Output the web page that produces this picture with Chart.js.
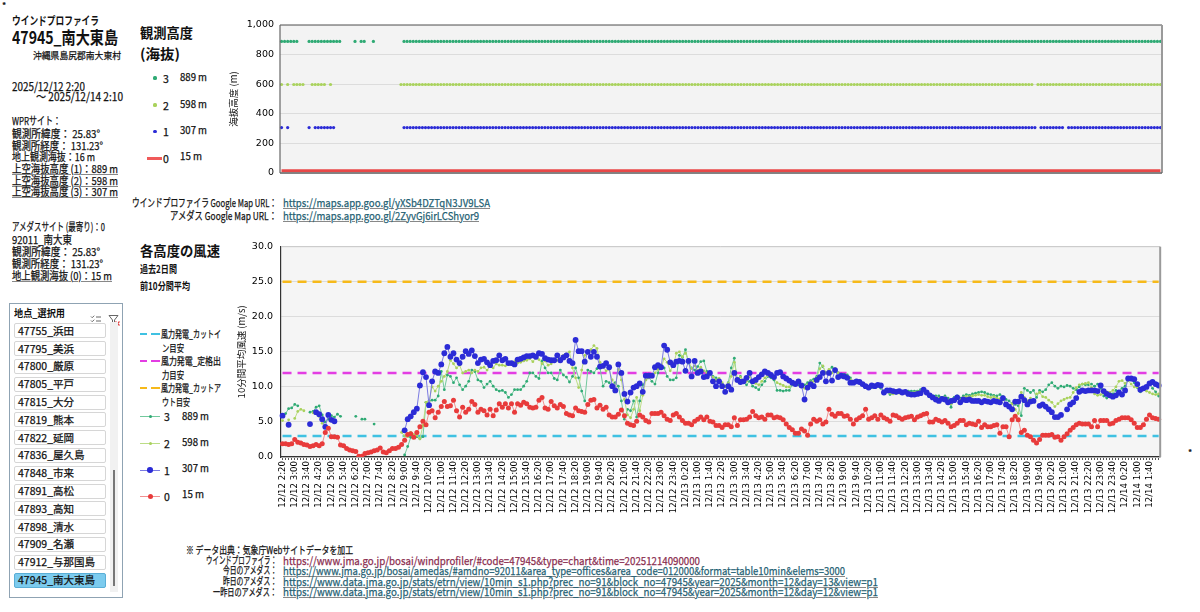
<!DOCTYPE html>
<html lang="ja"><head><meta charset="utf-8">
<script src="https://cdn.jsdelivr.net/npm/chart.js@4.4.1/dist/chart.umd.min.js"></script>
<style>
html,body{margin:0;padding:0;background:#fff}
#page{position:relative;width:1200px;height:612px;overflow:hidden;font-family:"Noto Sans CJK JP","Noto Sans",sans-serif;color:#111}
.t{position:absolute;white-space:nowrap;line-height:1.15;transform-origin:0 50%;-webkit-text-stroke:0.25px currentColor}
.u{text-decoration:underline;text-decoration-color:#888}
.ln{position:absolute;height:0}
.dot{position:absolute;border-radius:50%}
#box{position:absolute;left:9px;top:303px;width:114px;height:295px;border:1px solid #8fa3b3;background:#fff;box-sizing:border-box}
.item{position:absolute;left:14px;width:92px;height:15px;border:1px solid #d6d6d6;border-radius:2px;background:#fff;box-sizing:border-box}
.item.sel{background:#7ccbee;border-color:#5aaed6}
</style></head><body><div id="page"></div>
<script>
// ===== DATA =====
const _ = null;
const START = {month:12, day:12, hour:2, minute:20};
const N_POINTS = 288;              // 10-minute steps, 12/12 2:20 – 12/14 2:10
const LEVEL_NAMES = ['0','1','2','3'];
const LEVEL_HEIGHTS = [15, 307, 598, 889];   // m above sea level
const CUT_IN = 3.0, RATED = 12.0, CUT_OUT = 25.0;  // m/s guide lines

// level 0 : 15 m (AMeDAS)
const S0 = [
1.9,1.9,1.8,1.9,2.5,2.1,2.0,1.8,1.7,1.5,1.6,1.8,
1.6,1.9,3.5,4.1,2.9,2.9,2.8,1.7,1.6,1.2,1.0,0.9,
0.8,0.1,0.1,0.5,0.6,0.7,0.9,1.0,1.3,0.7,0.6,0.9,
1.2,1.2,1.4,1.8,2.4,3.2,3.3,2.8,3.5,4.3,5.1,4.6,
6.4,6.6,5.6,6.4,7.2,7.9,7.2,7.3,8.1,6.6,5.7,7.1,
6.4,6.8,7.9,7.5,6.4,6.8,6.6,6.0,6.8,5.9,6.7,7.6,
7.1,7.6,7.0,7.6,6.4,7.6,7.4,7.8,7.6,7.1,7.0,7.1,
8.1,8.5,7.0,6.8,7.9,7.3,7.0,7.5,7.2,6.2,6.0,5.9,
7.0,6.6,6.5,6.4,7.5,8.1,8.2,7.0,7.4,6.8,7.1,6.0,
5.7,5.7,6.1,6.7,5.9,4.8,4.6,4.5,5.1,6.0,5.7,5.2,
5.0,6.2,6.2,6.2,6.4,5.9,5.4,5.2,6.0,6.2,5.7,5.2,
4.8,4.8,4.6,5.1,5.4,5.7,5.3,5.7,5.1,5.0,4.5,4.5,
4.2,4.6,4.6,4.3,5.6,4.5,5.3,5.3,5.4,5.7,6.5,5.9,
5.6,5.7,5.4,6.0,6.0,5.6,5.7,5.6,5.3,4.7,4.2,3.9,
3.4,3.4,4.0,3.7,3.1,4.7,5.4,5.1,5.3,4.7,5.0,6.8,
6.1,5.8,6.2,6.2,5.8,5.9,5.4,4.7,5.3,5.6,5.9,6.8,
5.4,5.6,5.9,5.4,6.0,5.6,5.4,5.1,6.0,5.9,5.6,5.4,
5.6,5.7,5.8,5.3,5.7,5.9,6.1,6.2,5.0,5.0,5.4,5.2,
5.0,5.2,4.8,4.3,4.5,4.8,5.2,5.2,4.6,4.8,4.7,4.6,
5.1,4.2,4.6,4.3,4.3,4.5,4.6,3.4,4.3,4.3,2.9,5.3,
5.8,5.3,3.5,3.8,3.1,2.9,2.4,2.0,2.5,3.1,3.1,3.1,
3.2,2.8,2.9,2.4,2.9,3.3,3.8,4.2,4.6,4.8,4.7,4.7,
4.7,4.3,5.2,4.3,5.2,5.2,5.2,4.7,4.8,5.2,5.4,5.6,
5.6,5.6,5.3,4.8,4.2,4.2,4.6,5.4,6.0,5.6,5.5,5.4];

// level 1 : 307 m
const S1 = [
5.9,_,4.6,_,_,_,_,_,_,4.7,_,6.4,
6.1,5.4,4.3,6.0,5.3,5.1,_,_,_,_,_,_,
_,_,_,_,_,_,_,_,_,_,_,_,
_,_,_,_,3.8,5.4,5.8,6.4,6.9,10.2,12.1,11.4,
7.4,10.8,12.2,12.0,13.2,14.8,15.7,14.3,14.8,13.9,13.4,14.3,
15.1,14.7,15.2,14.4,13.4,13.9,14.0,13.5,13.1,13.7,13.8,14.5,
13.8,14.0,13.4,13.4,13.2,13.9,14.0,14.2,14.4,14.4,14.5,14.3,
14.8,14.7,14.1,13.9,13.8,13.8,14.5,13.8,14.2,14.5,13.7,13.4,
16.7,15.1,15.1,13.6,15.0,14.3,15.0,14.3,12.9,13.0,13.4,12.8,
10.1,9.5,13.2,12.0,9.0,7.9,9.2,9.9,10.1,10.5,9.3,11.6,
11.6,11.6,12.8,13.1,12.8,15.9,15.3,13.5,13.1,13.6,13.7,13.6,
12.3,13.7,11.5,13.7,12.0,12.2,11.4,11.5,12.0,10.8,10.1,10.8,
10.1,9.3,10.1,9.6,12.0,11.0,10.7,10.8,11.3,12.0,10.8,11.0,
11.4,11.8,12.2,12.0,11.7,11.4,12.0,12.1,11.5,11.2,10.9,10.6,
10.4,10.8,10.2,8.2,9.9,10.4,10.1,11.0,11.4,12.0,10.8,12.0,
10.9,12.4,11.4,11.6,11.5,11.3,10.6,10.6,10.8,10.7,10.4,10.1,
9.9,10.2,10.1,10.3,10.2,9.2,9.5,9.5,9.4,9.3,9.4,9.2,
9.3,9.0,8.9,8.9,9.0,9.1,9.6,9.2,8.8,8.5,8.2,8.0,
8.3,8.2,7.8,8.0,8.1,8.5,7.8,8.2,8.1,8.2,8.0,8.0,
8.0,7.8,8.0,7.9,7.8,8.0,7.9,7.8,8.4,7.5,7.2,6.8,
7.9,7.9,8.6,8.1,7.5,7.9,8.0,_,7.3,7.5,7.2,6.8,
6.4,5.7,5.7,6.0,_,6.8,7.5,7.8,8.4,9.3,9.5,9.4,
9.5,9.5,9.5,9.4,10.2,9.4,9.0,8.8,8.6,8.8,9.2,8.9,
9.5,11.2,11.2,11.1,10.4,9.6,9.8,10.0,10.5,10.7,10.4,10.2];

// level 2 : 598 m
const S2 = [
5.2,_,5.3,_,5.5,6.5,6.8,6.6,_,_,6.3,6.2,
5.8,4.8,4.5,_,5.3,_,_,_,_,_,_,_,
_,_,_,_,_,_,_,_,_,_,_,_,
_,_,_,3.5,3.0,2.9,3.5,3.2,3.1,2.6,4.5,7.8,
8.0,10.0,9.4,10.1,10.8,11.5,12.2,13.8,13.3,12.7,13.1,12.0,
12.2,12.4,12.0,12.4,12.2,12.7,12.8,12.4,12.9,12.7,13.3,13.1,
13.1,13.0,13.2,13.2,13.6,13.4,13.5,13.7,13.8,14.0,13.6,14.1,
13.9,13.3,13.7,13.1,13.3,13.6,13.8,14.1,14.5,14.7,15.0,12.7,
11.3,9.9,12.4,14.5,14.8,15.3,15.9,15.5,13.5,12.8,12.3,12.5,
11.0,10.0,12.5,11.0,8.2,6.0,5.6,6.8,8.5,6.6,8.8,11.0,
11.3,11.4,12.0,12.5,12.8,14.0,13.5,12.3,13.0,14.8,15.0,14.3,
14.8,13.8,12.6,13.0,12.4,12.8,12.3,12.0,11.8,11.4,11.0,11.2,
10.6,10.0,10.5,11.5,13.5,11.2,11.4,10.9,10.8,11.5,10.6,10.5,
10.3,10.8,11.3,11.6,11.6,11.2,10.6,10.4,10.2,10.0,10.0,10.4,
10.5,10.6,10.2,9.8,10.3,10.7,10.8,11.3,12.6,13.0,12.0,12.5,
12.0,12.6,12.0,11.8,11.6,11.5,11.0,10.7,10.8,10.6,10.4,10.1,
10.0,10.0,10.1,10.2,10.0,9.4,9.4,9.1,9.0,9.1,9.1,9.2,
9.2,9.2,9.1,9.2,9.3,9.4,9.5,9.1,8.8,8.5,8.5,8.4,
8.3,8.5,8.1,7.6,8.3,8.5,8.2,8.5,8.6,8.6,8.7,8.8,
8.9,8.8,8.8,8.6,8.5,8.6,8.4,8.3,8.2,7.5,7.4,7.6,
6.8,6.2,9.2,8.5,8.0,8.4,_,9.0,9.2,8.6,8.5,8.1,
7.8,7.2,7.6,8.0,8.2,8.4,8.5,9.2,9.9,10.3,10.4,10.5,
10.6,9.9,9.0,8.8,8.9,9.1,9.3,9.2,9.5,10.0,10.8,10.9,
10.5,10.9,10.4,10.0,10.0,9.6,9.6,9.4,9.2,9.0,8.9,9.0];

// level 3 : 889 m
const S3 = [
5.9,6.2,6.9,7.0,7.5,7.3,_,_,_,6.4,6.5,7.1,
7.3,6.0,5.0,5.4,5.9,5.7,6.1,5.8,_,_,_,_,
5.8,_,5.4,5.4,_,_,4.7,_,_,_,_,_,
_,_,_,_,0.3,1.5,2.8,2.8,2.9,2.6,2.9,7.8,
8.0,8.1,8.1,8.7,12.2,9.6,11.7,11.5,10.6,11.3,10.3,9.6,
10.1,10.8,12.4,12.2,11.0,10.8,9.9,10.4,10.8,10.1,9.6,9.4,
9.5,9.2,8.5,8.9,9.6,9.6,9.6,10.1,10.8,12.0,12.0,11.5,
11.2,13.7,12.7,12.0,12.0,11.2,11.0,12.4,11.7,11.4,10.7,11.5,
12.7,11.3,9.4,8.0,12.4,12.2,12.0,12.6,12.7,10.1,10.8,10.6,
10.1,10.6,10.1,8.0,5.4,6.8,6.6,8.0,5.7,8.0,10.3,11.0,
11.3,10.8,10.4,12.0,13.1,12.7,11.5,11.0,11.0,11.3,14.5,14.2,
15.3,13.4,12.7,12.4,12.9,13.6,13.7,12.2,12.0,11.5,11.3,11.0,
10.4,10.1,10.6,12.7,14.1,10.8,11.5,10.6,10.3,10.8,10.1,9.9,
9.6,10.3,10.8,11.5,11.3,11.0,9.5,9.5,9.4,9.5,9.5,10.3,
10.6,10.3,10.1,10.3,10.6,10.9,11.1,11.5,13.4,12.9,12.0,12.3,
12.8,12.2,12.0,11.8,11.8,11.7,11.3,10.8,10.8,10.6,10.4,10.1,
9.9,9.9,10.1,10.1,9.8,9.4,9.3,8.9,9.1,9.1,9.2,9.3,
9.3,9.4,9.4,9.4,9.4,9.6,9.6,9.3,8.9,8.7,8.7,8.7,
8.5,8.7,8.4,7.1,8.5,8.7,8.4,8.7,8.9,8.8,9.0,9.1,
9.2,9.3,9.2,9.0,8.9,8.8,8.7,8.9,8.6,8.2,8.0,7.6,
7.5,7.3,5.9,9.8,9.5,9.2,9.5,8.5,9.5,9.3,9.6,10.3,
10.6,10.1,9.8,10.1,10.0,10.2,10.1,9.8,9.6,10.0,10.4,10.3,
10.3,10.4,10.1,10.4,9.8,8.7,8.4,8.7,9.0,9.5,9.4,9.8,
10.1,11.2,11.0,10.6,9.9,9.3,9.8,10.1,10.4,9.8,9.3,8.7];

const STATIONS = ['47755_浜田','47795_美浜','47800_厳原','47805_平戸','47815_大分','47819_熊本','47822_延岡','47836_屋久島','47848_市来','47891_高松','47893_高知','47898_清水','47909_名瀬','47912_与那国島','47945_南大東島'];
const SELECTED = '47945_南大東島';

// time category labels (10-minute steps)
const TIME_LABELS = [];
for (let i = 0; i < N_POINTS; i++) {
  let m = START.minute + 10 * i, h = START.hour + Math.floor(m / 60); m %= 60;
  const d = START.day + Math.floor(h / 24); h %= 24;
  TIME_LABELS.push(`${START.month}/${d} ${h}:${String(m).padStart(2,'0')}`);
}

// ===== STYLE =====
const COL = {
  l3:'#2faa74', l3line:'#72c99d',
  l2:'#a9d25c', l2line:'#bcdd86',
  l1:'#2b2bd6', l1line:'#7b7be2',
  l0:'#e83b3b', l0line:'#f29090',
  cutIn:'#3fc1e2', rated:'#e33de3', cutOut:'#f6b91a',
  link:'#1f5f73', link1:'#8a2d4f'
};

const page = document.getElementById('page');
function T(txt, x, y, size, o = {}) {
  const d = document.createElement('div');
  d.className = 't' + (o.u ? ' u' : '');
  d.textContent = txt;
  d.style.fontSize = size + 'px';
  d.style.fontWeight = o.b ? '700' : '400';
  if (o.b) d.style.webkitTextStroke = '0px';
  d.style.color = o.c || '#111';
  if (o.f) d.style.fontFamily = o.f;
  page.appendChild(d);
  const h = d.offsetHeight;
  d.style.top = (y - h / 2) + 'px';
  let w = d.getBoundingClientRect().width;
  if (o.w) { d.style.transform = `scaleX(${o.w / w})`; w = o.w; }
  d.style.left = (o.r ? x - w : x) + 'px';
  return d;
}
function L(x1, x2, y, color, width, dash) {
  const d = document.createElement('div'); d.className = 'ln';
  d.style.cssText += `left:${x1}px;width:${x2 - x1}px;top:${y - width / 2}px;border-top:${width}px ${dash ? 'dashed' : 'solid'} ${color}`;
  page.appendChild(d); return d;
}
function D(x, y, r, color) {
  const d = document.createElement('div'); d.className = 'dot';
  d.style.cssText += `left:${x - r}px;top:${y - r}px;width:${2 * r}px;height:${2 * r}px;background:${color}`;
  page.appendChild(d); return d;
}

// ===== LEFT PANEL =====
T('*', 2, 6, 9);
T('ウインドプロファイラ', 12, 20, 11.5, {b:1, w:87});
T('47945_南大東島', 12, 36.5, 17.5, {b:1, w:106});
T('沖縄県島尻郡南大東村', 33, 55, 9.5, {w:88});
T('2025/12/12 2:20', 12, 86, 11.5, {w:73});
T('～ 2025/12/14 2:10', 36, 96.7, 11.5, {w:87});
T('WPRサイト：', 12, 120, 11, {w:49});
T('観測所緯度： 25.83°', 12, 133.3, 11, {w:88});
T('観測所経度： 131.23°', 12, 145.7, 11, {w:91});
T('地上観測海抜：16 m', 12, 156.7, 11, {w:83});
T('上空海抜高度 (1)：' + LEVEL_HEIGHTS[3] + ' m', 12, 168.3, 11, {w:106, u:1});
T('上空海抜高度 (2)：' + LEVEL_HEIGHTS[2] + ' m', 12, 180, 11, {w:106, u:1});
T('上空海抜高度 (3)：' + LEVEL_HEIGHTS[1] + ' m', 12, 191.7, 11, {w:106, u:1});
T('アメダスサイト (最寄り)：0', 12, 226.7, 11, {w:93});
T('92011_南大東', 12, 239.3, 11, {w:60});
T('観測所緯度： 25.83°', 12, 251.7, 11, {w:88});
T('観測所経度： 131.23°', 12, 263.3, 11, {w:91});
T('地上観測海抜 (0)：' + LEVEL_HEIGHTS[0] + ' m', 12, 275, 11, {w:100, u:1});

// slicer box
const box = document.createElement('div'); box.id = 'box'; page.appendChild(box);
T('地点_選択用', 14, 313, 10, {b:1, w:51});
const ic = document.createElement('div');
ic.style.cssText = 'position:absolute;left:90px;top:307px;width:32px;height:12px';
ic.innerHTML = '<svg width="32" height="12" viewBox="0 0 32 12"><g stroke="#666" stroke-width="1" fill="none"><path d="M1 2.5l1.2 1.2 2-2M1 6.5l1.2 1.2 2-2M1 10.5l1.2 1.2 2-2"/><path d="M6 3h5M6 7h5M6 11h5"/><path d="M19 1.5h9l-3.5 4.5v5l-2-1v-4z"/></g><path d="M25.5 7.5l4 4M29.5 7.5l-4 4" stroke="#e04040" stroke-width="1.2"/></svg>';
page.appendChild(ic);
const track = document.createElement('div');
track.style.cssText = 'position:absolute;left:110px;top:322px;width:8px;height:270px;background:#f1f1f1';
page.appendChild(track);
const thumb = document.createElement('div');
thumb.style.cssText = 'position:absolute;left:113px;top:470px;width:2px;height:116px;background:#777';
page.appendChild(thumb);
STATIONS.forEach((s, k) => {
  const cy = 330.8 + 17.8 * k;
  const it = document.createElement('div');
  it.className = 'item' + (s === SELECTED ? ' sel' : '');
  it.style.top = (cy - 7.5) + 'px';
  page.appendChild(it);
  T(s, 18, cy, 10.5, {});
});

// ===== TOP LEGEND =====
T('観測高度', 140, 31.7, 14, {b:1, w:53});
T('(海抜)', 140, 52.7, 14, {b:1, w:40});
D(155, 78, 1.6, COL.l3);  T(LEVEL_NAMES[3], 163, 78.5, 10.5); T(LEVEL_HEIGHTS[3] + ' m', 180, 77, 10.5, {w:27});
D(155, 105, 1.6, COL.l2); T(LEVEL_NAMES[2], 163, 105.5, 10.5); T(LEVEL_HEIGHTS[2] + ' m', 180, 103.5, 10.5, {w:27});
D(155, 131.7, 1.6, COL.l1); T(LEVEL_NAMES[1], 163, 132, 10.5); T(LEVEL_HEIGHTS[1] + ' m', 180, 129.5, 10.5, {w:27});
L(147, 162, 158.7, '#f05a5a', 3); T(LEVEL_NAMES[0], 163, 159, 10.5); T(LEVEL_HEIGHTS[0] + ' m', 180, 155.5, 10.5, {w:22});

// map URLs
T('ウインドプロファイラ Google Map URL：', 277, 202.7, 11, {r:1, w:145});
T('https://maps.app.goo.gl/yXSb4DZTqN3JV9LSA', 283, 202.7, 11, {u:1, c:COL.link, w:207});
T('アメダス Google Map URL：', 277, 215, 11, {r:1, w:107});
T('https://maps.app.goo.gl/2ZyvGj6irLCShyor9', 283, 215, 11, {u:1, c:COL.link, w:196});

// ===== BOTTOM LEGEND =====
T('各高度の風速', 140, 250, 14, {b:1, w:80});
T('過去2日間', 140, 269.3, 10.5, {b:1, w:37});
T('前10分間平均', 140, 286, 10.5, {b:1, w:50});
function dashLeg(y, color) { L(140, 147, y, color, 2.5); L(151, 160, y, color, 2.5); }
dashLeg(334, COL.cutIn);  T('風力発電_カットイ', 161, 334, 10, {w:60}); T('ン目安', 162, 348.3, 10, {w:22});
dashLeg(361, COL.rated);  T('風力発電_定格出', 161, 361, 10, {w:60}); T('力目安', 162, 375, 10, {w:22});
dashLeg(388.3, COL.cutOut); T('風力発電_カットア', 161, 388.3, 10, {w:60}); T('ウト目安', 162, 401.7, 10, {w:28});
L(140, 160, 416.7, COL.l3line, 1); D(150, 416.7, 1.5, COL.l3); T(LEVEL_NAMES[3], 164, 417, 10.5); T(LEVEL_HEIGHTS[3] + ' m', 182, 415.5, 10.5, {w:27});
L(140, 160, 443.3, COL.l2line, 1); D(150, 443.3, 1.5, COL.l2); T(LEVEL_NAMES[2], 164, 443.5, 10.5); T(LEVEL_HEIGHTS[2] + ' m', 182, 442, 10.5, {w:27});
L(140, 160, 470, COL.l1line, 1); D(150, 470, 2.8, COL.l1); T(LEVEL_NAMES[1], 164, 470.5, 10.5); T(LEVEL_HEIGHTS[1] + ' m', 182, 468, 10.5, {w:27});
L(140, 160, 496.7, COL.l0line, 1); D(150, 496.7, 2.5, COL.l0); T(LEVEL_NAMES[0], 164, 497, 10.5); T(LEVEL_HEIGHTS[0] + ' m', 182, 494, 10.5, {w:22});

// ===== FOOTER =====
T('※ データ出典：気象庁Webサイトデータを加工', 186, 550, 10.5, {w:167});
T('ウインドプロファイラ：', 277, 560, 10.5, {r:1, w:71});
T('https://www.jma.go.jp/bosai/windprofiler/#code=47945&type=chart&time=20251214090000', 283, 560, 11, {c:COL.link1, w:417});
T('今日のアメダス：', 277, 570, 10.5, {r:1, w:54});
T('https://www.jma.go.jp/bosai/amedas/#amdno=92011&area_type=offices&area_code=012000&format=table10min&elems=3000', 283, 570, 11, {u:1, c:COL.link, w:562});
T('昨日のアメダス：', 277, 581, 10.5, {r:1, w:54});
T('https://www.data.jma.go.jp/stats/etrn/view/10min_s1.php?prec_no=91&block_no=47945&year=2025&month=12&day=13&view=p1', 283, 581, 11, {u:1, c:COL.link, w:595});
T('一昨日のアメダス：', 277, 591.5, 10.5, {r:1, w:64});
T('https://www.data.jma.go.jp/stats/etrn/view/10min_s1.php?prec_no=91&block_no=47945&year=2025&month=12&day=12&view=p1', 283, 591.5, 11, {u:1, c:COL.link, w:595});
T('*', 1188, 453, 9);

// ===== CHARTS =====
function mkCanvas(l, t, w, h) {
  const c = document.createElement('canvas');
  c.width = w; c.height = h;
  c.style.cssText = `position:absolute;left:${l}px;top:${t}px;width:${w}px;height:${h}px`;
  page.appendChild(c); return c;
}
function framePlugin(bg, edges) {
  return {
    id: 'frame',
    beforeDraw(c) {
      const a = c.chartArea, x = c.ctx;
      x.save(); x.fillStyle = bg; x.fillRect(a.left, a.top, a.right - a.left, a.bottom - a.top); x.restore();
    },
    afterDraw(c) {
      const a = c.chartArea, x = c.ctx;
      x.save();
      const seg = (x1, y1, x2, y2, col, w) => { x.strokeStyle = col; x.lineWidth = w; x.beginPath(); x.moveTo(x1, y1); x.lineTo(x2, y2); x.stroke(); };
      if (edges.top) seg(a.left, a.top, a.right, a.top, edges.top[0], edges.top[1]);
      if (edges.right) seg(a.right, a.top, a.right, a.bottom, edges.right[0], edges.right[1]);
      if (edges.left) seg(a.left, a.top, a.left, a.bottom, edges.left[0], edges.left[1]);
      if (edges.bottom) seg(a.left, a.bottom, a.right, a.bottom, edges.bottom[0], edges.bottom[1]);
      x.restore();
    }
  };
}
const tickFont = {family:'DejaVu Sans', size:9.5};
const jpFont = {family:'Noto Sans CJK JP', size:9.5};

// top chart : observation heights
const cTop = mkCanvas(226, 10, 944, 175);
const heightSeries = (S, h) => S.map(v => v == null ? null : h);
new Chart(cTop, {
  type: 'line',
  data: {
    labels: TIME_LABELS,
    datasets: [
      {data: heightSeries(S3, LEVEL_HEIGHTS[3]), showLine:false, pointRadius:1.6, pointBorderWidth:0, pointBackgroundColor:COL.l3},
      {data: heightSeries(S2, LEVEL_HEIGHTS[2]), showLine:false, pointRadius:1.6, pointBorderWidth:0, pointBackgroundColor:COL.l2},
      {data: heightSeries(S1, LEVEL_HEIGHTS[1]), showLine:false, pointRadius:1.6, pointBorderWidth:0, pointBackgroundColor:COL.l1},
      {data: heightSeries(S0, LEVEL_HEIGHTS[0]), borderColor:'#e84848', borderWidth:3, pointRadius:0}
    ]
  },
  options: {
    responsive:false, animation:false, events:[],
    layout:{padding:{top:15, right:8, bottom:12, left:0}},
    plugins:{legend:{display:false}, tooltip:{enabled:false}},
    scales:{
      x:{display:false, offset:true},
      y:{min:0, max:1000,
         ticks:{stepSize:200, callback:v => v.toLocaleString('en-US'), font:tickFont, color:'#000', padding:6},
         grid:{color:'#dcdcdc', drawTicks:false},
         border:{display:false},
         title:{display:true, text:'海抜高度 (m)', font:jpFont, color:'#111', padding:{top:2, bottom:2}},
         afterFit:s => { s.width = 54; }}
    }
  },
  plugins:[framePlugin('#f3f3f3', {top:['#8a8a8a',1.5], right:['#9a9a9a',2], left:['#666',1.2], bottom:['#666',1.5]})]
});

// bottom chart : wind speed
const cBot = mkCanvas(234, 233, 936, 312);
const constSeries = v => TIME_LABELS.map(() => v);
new Chart(cBot, {
  type: 'line',
  data: {
    labels: TIME_LABELS,
    datasets: [
      {data: constSeries(CUT_IN), borderColor:COL.cutIn, borderWidth:2.5, borderDash:[9,6], pointRadius:0, order:10},
      {data: constSeries(RATED), borderColor:COL.rated, borderWidth:2.5, borderDash:[9,6], pointRadius:0, order:10},
      {data: constSeries(CUT_OUT), borderColor:COL.cutOut, borderWidth:2.5, borderDash:[9,6], pointRadius:0, order:10},
      {data: S3, borderColor:COL.l3line, borderWidth:1, pointRadius:1.4, pointBorderWidth:0, pointBackgroundColor:COL.l3, order:6},
      {data: S2, borderColor:COL.l2line, borderWidth:1, pointRadius:1.4, pointBorderWidth:0, pointBackgroundColor:COL.l2, order:5},
      {data: S1, borderColor:COL.l1line, borderWidth:1, pointRadius:2.9, pointBorderWidth:0, pointBackgroundColor:COL.l1, order:2},
      {data: S0, borderColor:COL.l0line, borderWidth:1, pointRadius:2.5, pointBorderWidth:0, pointBackgroundColor:COL.l0, order:1}
    ]
  },
  options: {
    responsive:false, animation:false, events:[],
    layout:{padding:{top:10, right:8, bottom:0, left:0}},
    plugins:{legend:{display:false}, tooltip:{enabled:false}},
    scales:{
      x:{offset:true,
         ticks:{autoSkip:false, maxRotation:90, minRotation:90, padding:1, font:{family:'DejaVu Sans', size:8.6}, color:'#000',
                callback:(v, i) => i % 4 === 0 ? TIME_LABELS[i] : ''},
         grid:{drawOnChartArea:false, drawTicks:true, tickLength:3, color:'#555'},
         border:{display:true, color:'#333', width:1.2},
         afterFit:s => { s.height = 88; }},
      y:{min:0, max:30,
         ticks:{stepSize:5, callback:v => v.toFixed(1), font:tickFont, color:'#000', padding:8},
         grid:{color:'#dcdcdc', drawTicks:false},
         border:{display:true, color:'#333', width:1.2},
         title:{display:true, text:'10分間平均風速 (m/s)', font:jpFont, color:'#111', padding:{top:2, bottom:2}},
         afterFit:s => { s.width = 47; }}
    }
  },
  plugins:[framePlugin('#f5f5f5', {top:['#c8c8c8',1], right:['#9a9a9a',2]})]
});
</script>
</body></html>
